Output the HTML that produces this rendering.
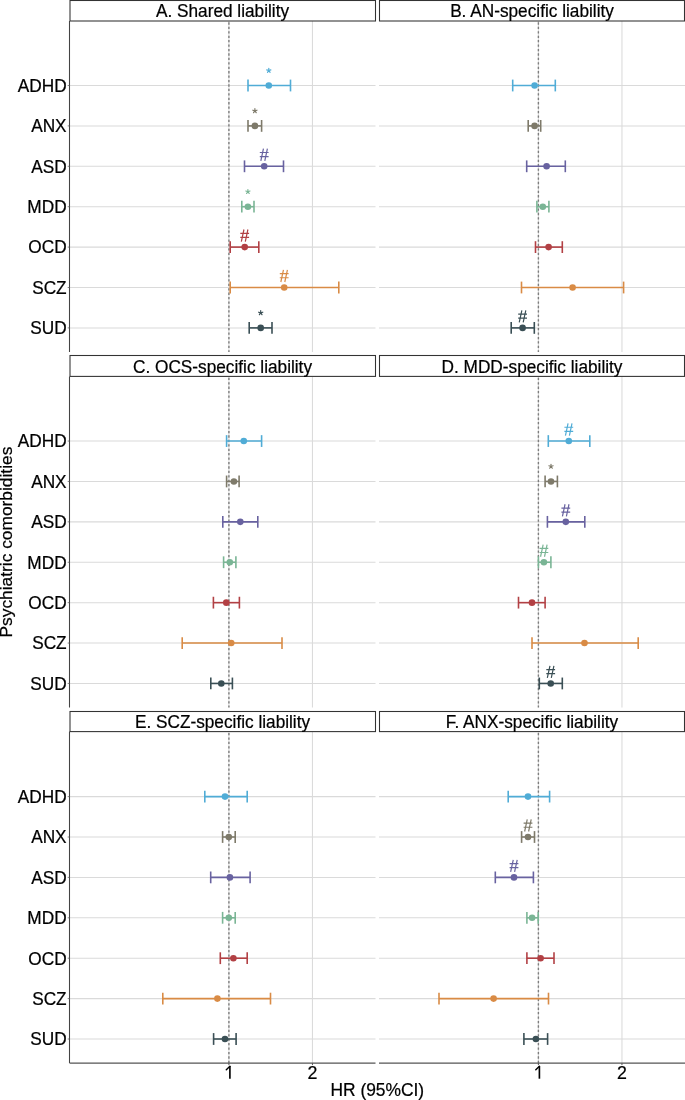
<!DOCTYPE html><html><head><meta charset="utf-8"><style>html,body{margin:0;padding:0;background:#fff;overflow:hidden}svg{display:block;will-change:transform}text{font-family:"Liberation Sans",sans-serif}</style></head><body>
<svg width="685" height="1100" viewBox="0 0 685 1100">
<rect x="0" y="0" width="685" height="1100" fill="#fff"/>
<line x1="69.50" y1="85.50" x2="375.50" y2="85.50" stroke="#DADADA" stroke-width="1.05"/>
<line x1="69.50" y1="125.90" x2="375.50" y2="125.90" stroke="#DADADA" stroke-width="1.05"/>
<line x1="69.50" y1="166.30" x2="375.50" y2="166.30" stroke="#DADADA" stroke-width="1.05"/>
<line x1="69.50" y1="206.70" x2="375.50" y2="206.70" stroke="#DADADA" stroke-width="1.05"/>
<line x1="69.50" y1="247.10" x2="375.50" y2="247.10" stroke="#DADADA" stroke-width="1.05"/>
<line x1="69.50" y1="287.50" x2="375.50" y2="287.50" stroke="#DADADA" stroke-width="1.05"/>
<line x1="69.50" y1="327.90" x2="375.50" y2="327.90" stroke="#DADADA" stroke-width="1.05"/>
<line x1="228.90" y1="21.00" x2="228.90" y2="352.00" stroke="#DADADA" stroke-width="1.05"/>
<line x1="312.45" y1="21.00" x2="312.45" y2="352.00" stroke="#DADADA" stroke-width="1.05"/>
<line x1="228.90" y1="21.00" x2="228.90" y2="352.00" stroke="#7E7E7E" stroke-width="1.4" stroke-dasharray="2.3 2.13" stroke-dashoffset="-1.35"/>
<rect x="70.00" y="0.50" width="305.50" height="20.50" fill="#fff" stroke="#333" stroke-width="1.07"/>
<text transform="translate(222.50,17.10) scale(1,1.015)" font-size="17.25" text-anchor="middle" fill="#000" stroke="#000" stroke-width="0.22">A. Shared liability</text>
<line x1="69.50" y1="21.00" x2="69.50" y2="352.00" stroke="#444" stroke-width="1.07"/>
<line x1="67.70" y1="85.50" x2="69.50" y2="85.50" stroke="#666" stroke-width="0.8"/>
<text transform="translate(66.60,91.80) scale(1,1.02)" font-size="17.25" text-anchor="end" fill="#000" stroke="#000" stroke-width="0.22">ADHD</text>
<line x1="67.70" y1="125.90" x2="69.50" y2="125.90" stroke="#666" stroke-width="0.8"/>
<text transform="translate(66.60,132.20) scale(1,1.02)" font-size="17.25" text-anchor="end" fill="#000" stroke="#000" stroke-width="0.22">ANX</text>
<line x1="67.70" y1="166.30" x2="69.50" y2="166.30" stroke="#666" stroke-width="0.8"/>
<text transform="translate(66.60,172.60) scale(1,1.02)" font-size="17.25" text-anchor="end" fill="#000" stroke="#000" stroke-width="0.22">ASD</text>
<line x1="67.70" y1="206.70" x2="69.50" y2="206.70" stroke="#666" stroke-width="0.8"/>
<text transform="translate(66.60,213.00) scale(1,1.02)" font-size="17.25" text-anchor="end" fill="#000" stroke="#000" stroke-width="0.22">MDD</text>
<line x1="67.70" y1="247.10" x2="69.50" y2="247.10" stroke="#666" stroke-width="0.8"/>
<text transform="translate(66.60,253.40) scale(1,1.02)" font-size="17.25" text-anchor="end" fill="#000" stroke="#000" stroke-width="0.22">OCD</text>
<line x1="67.70" y1="287.50" x2="69.50" y2="287.50" stroke="#666" stroke-width="0.8"/>
<text transform="translate(66.60,293.80) scale(1,1.02)" font-size="17.25" text-anchor="end" fill="#000" stroke="#000" stroke-width="0.22">SCZ</text>
<line x1="67.70" y1="327.90" x2="69.50" y2="327.90" stroke="#666" stroke-width="0.8"/>
<text transform="translate(66.60,334.20) scale(1,1.02)" font-size="17.25" text-anchor="end" fill="#000" stroke="#000" stroke-width="0.22">SUD</text>
<g stroke="#50ACD6" stroke-width="1.6" fill="none"><line x1="248.00" y1="85.50" x2="290.50" y2="85.50"/><line x1="248.00" y1="79.60" x2="248.00" y2="91.40"/><line x1="290.50" y1="79.60" x2="290.50" y2="91.40"/></g>
<circle cx="268.80" cy="85.50" r="3.3" fill="#50ACD6"/>
<path d="M268.80 70.50l0.00 -2.20M268.80 70.50l2.09 -0.68M268.80 70.50l1.29 1.78M268.80 70.50l-1.29 1.78M268.80 70.50l-2.09 -0.68" stroke="#50ACD6" stroke-width="1.2" stroke-linecap="round" fill="none"/>
<g stroke="#7E7A6A" stroke-width="1.6" fill="none"><line x1="248.00" y1="125.90" x2="261.60" y2="125.90"/><line x1="248.00" y1="120.00" x2="248.00" y2="131.80"/><line x1="261.60" y1="120.00" x2="261.60" y2="131.80"/></g>
<circle cx="254.90" cy="125.90" r="3.3" fill="#7E7A6A"/>
<path d="M254.90 110.90l0.00 -2.20M254.90 110.90l2.09 -0.68M254.90 110.90l1.29 1.78M254.90 110.90l-1.29 1.78M254.90 110.90l-2.09 -0.68" stroke="#7E7A6A" stroke-width="1.2" stroke-linecap="round" fill="none"/>
<g stroke="#6862A0" stroke-width="1.6" fill="none"><line x1="244.50" y1="166.30" x2="283.50" y2="166.30"/><line x1="244.50" y1="160.40" x2="244.50" y2="172.20"/><line x1="283.50" y1="160.40" x2="283.50" y2="172.20"/></g>
<circle cx="264.20" cy="166.30" r="3.3" fill="#6862A0"/>
<path d="M263.45 148.70L260.84 160.80M267.40 148.70L264.80 160.80M259.80 152.50H268.60M259.80 156.55H268.60" stroke="#6862A0" stroke-width="1.2" fill="none"/>
<g stroke="#7AB595" stroke-width="1.6" fill="none"><line x1="241.80" y1="206.70" x2="254.00" y2="206.70"/><line x1="241.80" y1="200.80" x2="241.80" y2="212.60"/><line x1="254.00" y1="200.80" x2="254.00" y2="212.60"/></g>
<circle cx="247.90" cy="206.70" r="3.3" fill="#7AB595"/>
<path d="M247.90 191.70l0.00 -2.20M247.90 191.70l2.09 -0.68M247.90 191.70l1.29 1.78M247.90 191.70l-1.29 1.78M247.90 191.70l-2.09 -0.68" stroke="#7AB595" stroke-width="1.2" stroke-linecap="round" fill="none"/>
<g stroke="#B24044" stroke-width="1.6" fill="none"><line x1="230.20" y1="247.10" x2="258.80" y2="247.10"/><line x1="230.20" y1="241.20" x2="230.20" y2="253.00"/><line x1="258.80" y1="241.20" x2="258.80" y2="253.00"/></g>
<circle cx="244.70" cy="247.10" r="3.3" fill="#B24044"/>
<path d="M243.95 229.50L241.34 241.60M247.90 229.50L245.30 241.60M240.30 233.30H249.10M240.30 237.35H249.10" stroke="#B24044" stroke-width="1.2" fill="none"/>
<g stroke="#D98B45" stroke-width="1.6" fill="none"><line x1="230.20" y1="287.50" x2="338.80" y2="287.50"/><line x1="230.20" y1="281.60" x2="230.20" y2="293.40"/><line x1="338.80" y1="281.60" x2="338.80" y2="293.40"/></g>
<circle cx="284.20" cy="287.50" r="3.3" fill="#D98B45"/>
<path d="M283.45 269.90L280.84 282.00M287.40 269.90L284.80 282.00M279.80 273.70H288.60M279.80 277.75H288.60" stroke="#D98B45" stroke-width="1.2" fill="none"/>
<g stroke="#3A4F55" stroke-width="1.6" fill="none"><line x1="249.20" y1="327.90" x2="272.00" y2="327.90"/><line x1="249.20" y1="322.00" x2="249.20" y2="333.80"/><line x1="272.00" y1="322.00" x2="272.00" y2="333.80"/></g>
<circle cx="260.70" cy="327.90" r="3.3" fill="#3A4F55"/>
<path d="M260.70 312.90l0.00 -2.20M260.70 312.90l2.09 -0.68M260.70 312.90l1.29 1.78M260.70 312.90l-1.29 1.78M260.70 312.90l-2.09 -0.68" stroke="#3A4F55" stroke-width="1.2" stroke-linecap="round" fill="none"/>
<line x1="379.00" y1="85.50" x2="685.00" y2="85.50" stroke="#DADADA" stroke-width="1.05"/>
<line x1="379.00" y1="125.90" x2="685.00" y2="125.90" stroke="#DADADA" stroke-width="1.05"/>
<line x1="379.00" y1="166.30" x2="685.00" y2="166.30" stroke="#DADADA" stroke-width="1.05"/>
<line x1="379.00" y1="206.70" x2="685.00" y2="206.70" stroke="#DADADA" stroke-width="1.05"/>
<line x1="379.00" y1="247.10" x2="685.00" y2="247.10" stroke="#DADADA" stroke-width="1.05"/>
<line x1="379.00" y1="287.50" x2="685.00" y2="287.50" stroke="#DADADA" stroke-width="1.05"/>
<line x1="379.00" y1="327.90" x2="685.00" y2="327.90" stroke="#DADADA" stroke-width="1.05"/>
<line x1="538.40" y1="21.00" x2="538.40" y2="352.00" stroke="#DADADA" stroke-width="1.05"/>
<line x1="621.95" y1="21.00" x2="621.95" y2="352.00" stroke="#DADADA" stroke-width="1.05"/>
<line x1="538.40" y1="21.00" x2="538.40" y2="352.00" stroke="#7E7E7E" stroke-width="1.4" stroke-dasharray="2.3 2.13" stroke-dashoffset="-1.35"/>
<rect x="379.50" y="0.50" width="305.00" height="20.50" fill="#fff" stroke="#333" stroke-width="1.07"/>
<text transform="translate(532.00,17.10) scale(1,1.015)" font-size="17.25" text-anchor="middle" fill="#000" stroke="#000" stroke-width="0.22">B. AN-specific liability</text>
<g stroke="#50ACD6" stroke-width="1.6" fill="none"><line x1="512.70" y1="85.50" x2="555.30" y2="85.50"/><line x1="512.70" y1="79.60" x2="512.70" y2="91.40"/><line x1="555.30" y1="79.60" x2="555.30" y2="91.40"/></g>
<circle cx="534.60" cy="85.50" r="3.3" fill="#50ACD6"/>
<g stroke="#7E7A6A" stroke-width="1.6" fill="none"><line x1="528.20" y1="125.90" x2="540.70" y2="125.90"/><line x1="528.20" y1="120.00" x2="528.20" y2="131.80"/><line x1="540.70" y1="120.00" x2="540.70" y2="131.80"/></g>
<circle cx="534.60" cy="125.90" r="3.3" fill="#7E7A6A"/>
<g stroke="#6862A0" stroke-width="1.6" fill="none"><line x1="526.70" y1="166.30" x2="565.30" y2="166.30"/><line x1="526.70" y1="160.40" x2="526.70" y2="172.20"/><line x1="565.30" y1="160.40" x2="565.30" y2="172.20"/></g>
<circle cx="546.60" cy="166.30" r="3.3" fill="#6862A0"/>
<g stroke="#7AB595" stroke-width="1.6" fill="none"><line x1="536.90" y1="206.70" x2="548.90" y2="206.70"/><line x1="536.90" y1="200.80" x2="536.90" y2="212.60"/><line x1="548.90" y1="200.80" x2="548.90" y2="212.60"/></g>
<circle cx="542.80" cy="206.70" r="3.3" fill="#7AB595"/>
<g stroke="#B24044" stroke-width="1.6" fill="none"><line x1="535.50" y1="247.10" x2="562.30" y2="247.10"/><line x1="535.50" y1="241.20" x2="535.50" y2="253.00"/><line x1="562.30" y1="241.20" x2="562.30" y2="253.00"/></g>
<circle cx="548.60" cy="247.10" r="3.3" fill="#B24044"/>
<g stroke="#D98B45" stroke-width="1.6" fill="none"><line x1="521.50" y1="287.50" x2="623.60" y2="287.50"/><line x1="521.50" y1="281.60" x2="521.50" y2="293.40"/><line x1="623.60" y1="281.60" x2="623.60" y2="293.40"/></g>
<circle cx="572.60" cy="287.50" r="3.3" fill="#D98B45"/>
<g stroke="#3A4F55" stroke-width="1.6" fill="none"><line x1="511.20" y1="327.90" x2="534.30" y2="327.90"/><line x1="511.20" y1="322.00" x2="511.20" y2="333.80"/><line x1="534.30" y1="322.00" x2="534.30" y2="333.80"/></g>
<circle cx="522.60" cy="327.90" r="3.3" fill="#3A4F55"/>
<path d="M521.85 310.30L519.24 322.40M525.80 310.30L523.20 322.40M518.20 314.10H527.00M518.20 318.15H527.00" stroke="#3A4F55" stroke-width="1.2" fill="none"/>
<line x1="69.50" y1="441.05" x2="375.50" y2="441.05" stroke="#DADADA" stroke-width="1.05"/>
<line x1="69.50" y1="481.45" x2="375.50" y2="481.45" stroke="#DADADA" stroke-width="1.05"/>
<line x1="69.50" y1="521.85" x2="375.50" y2="521.85" stroke="#DADADA" stroke-width="1.05"/>
<line x1="69.50" y1="562.25" x2="375.50" y2="562.25" stroke="#DADADA" stroke-width="1.05"/>
<line x1="69.50" y1="602.65" x2="375.50" y2="602.65" stroke="#DADADA" stroke-width="1.05"/>
<line x1="69.50" y1="643.05" x2="375.50" y2="643.05" stroke="#DADADA" stroke-width="1.05"/>
<line x1="69.50" y1="683.45" x2="375.50" y2="683.45" stroke="#DADADA" stroke-width="1.05"/>
<line x1="228.90" y1="376.40" x2="228.90" y2="707.55" stroke="#DADADA" stroke-width="1.05"/>
<line x1="312.45" y1="376.40" x2="312.45" y2="707.55" stroke="#DADADA" stroke-width="1.05"/>
<line x1="228.90" y1="376.40" x2="228.90" y2="707.55" stroke="#7E7E7E" stroke-width="1.4" stroke-dasharray="2.3 2.13" stroke-dashoffset="-1.35"/>
<rect x="70.00" y="355.50" width="305.50" height="20.90" fill="#fff" stroke="#333" stroke-width="1.07"/>
<text transform="translate(222.50,372.60) scale(1,1.015)" font-size="17.25" text-anchor="middle" fill="#000" stroke="#000" stroke-width="0.22">C. OCS-specific liability</text>
<line x1="69.50" y1="376.40" x2="69.50" y2="707.55" stroke="#444" stroke-width="1.07"/>
<line x1="67.70" y1="441.05" x2="69.50" y2="441.05" stroke="#666" stroke-width="0.8"/>
<text transform="translate(66.60,447.35) scale(1,1.02)" font-size="17.25" text-anchor="end" fill="#000" stroke="#000" stroke-width="0.22">ADHD</text>
<line x1="67.70" y1="481.45" x2="69.50" y2="481.45" stroke="#666" stroke-width="0.8"/>
<text transform="translate(66.60,487.75) scale(1,1.02)" font-size="17.25" text-anchor="end" fill="#000" stroke="#000" stroke-width="0.22">ANX</text>
<line x1="67.70" y1="521.85" x2="69.50" y2="521.85" stroke="#666" stroke-width="0.8"/>
<text transform="translate(66.60,528.15) scale(1,1.02)" font-size="17.25" text-anchor="end" fill="#000" stroke="#000" stroke-width="0.22">ASD</text>
<line x1="67.70" y1="562.25" x2="69.50" y2="562.25" stroke="#666" stroke-width="0.8"/>
<text transform="translate(66.60,568.55) scale(1,1.02)" font-size="17.25" text-anchor="end" fill="#000" stroke="#000" stroke-width="0.22">MDD</text>
<line x1="67.70" y1="602.65" x2="69.50" y2="602.65" stroke="#666" stroke-width="0.8"/>
<text transform="translate(66.60,608.95) scale(1,1.02)" font-size="17.25" text-anchor="end" fill="#000" stroke="#000" stroke-width="0.22">OCD</text>
<line x1="67.70" y1="643.05" x2="69.50" y2="643.05" stroke="#666" stroke-width="0.8"/>
<text transform="translate(66.60,649.35) scale(1,1.02)" font-size="17.25" text-anchor="end" fill="#000" stroke="#000" stroke-width="0.22">SCZ</text>
<line x1="67.70" y1="683.45" x2="69.50" y2="683.45" stroke="#666" stroke-width="0.8"/>
<text transform="translate(66.60,689.75) scale(1,1.02)" font-size="17.25" text-anchor="end" fill="#000" stroke="#000" stroke-width="0.22">SUD</text>
<g stroke="#50ACD6" stroke-width="1.6" fill="none"><line x1="226.60" y1="441.05" x2="261.60" y2="441.05"/><line x1="226.60" y1="435.15" x2="226.60" y2="446.95"/><line x1="261.60" y1="435.15" x2="261.60" y2="446.95"/></g>
<circle cx="243.80" cy="441.05" r="3.3" fill="#50ACD6"/>
<g stroke="#7E7A6A" stroke-width="1.6" fill="none"><line x1="226.60" y1="481.45" x2="239.10" y2="481.45"/><line x1="226.60" y1="475.55" x2="226.60" y2="487.35"/><line x1="239.10" y1="475.55" x2="239.10" y2="487.35"/></g>
<circle cx="233.90" cy="481.45" r="3.3" fill="#7E7A6A"/>
<g stroke="#6862A0" stroke-width="1.6" fill="none"><line x1="222.80" y1="521.85" x2="257.80" y2="521.85"/><line x1="222.80" y1="515.95" x2="222.80" y2="527.75"/><line x1="257.80" y1="515.95" x2="257.80" y2="527.75"/></g>
<circle cx="240.30" cy="521.85" r="3.3" fill="#6862A0"/>
<g stroke="#7AB595" stroke-width="1.6" fill="none"><line x1="223.60" y1="562.25" x2="235.90" y2="562.25"/><line x1="223.60" y1="556.35" x2="223.60" y2="568.15"/><line x1="235.90" y1="556.35" x2="235.90" y2="568.15"/></g>
<circle cx="229.80" cy="562.25" r="3.3" fill="#7AB595"/>
<g stroke="#B24044" stroke-width="1.6" fill="none"><line x1="213.40" y1="602.65" x2="239.40" y2="602.65"/><line x1="213.40" y1="596.75" x2="213.40" y2="608.55"/><line x1="239.40" y1="596.75" x2="239.40" y2="608.55"/></g>
<circle cx="226.30" cy="602.65" r="3.3" fill="#B24044"/>
<g stroke="#D98B45" stroke-width="1.6" fill="none"><line x1="182.20" y1="643.05" x2="282.00" y2="643.05"/><line x1="182.20" y1="637.15" x2="182.20" y2="648.95"/><line x1="282.00" y1="637.15" x2="282.00" y2="648.95"/></g>
<circle cx="231.20" cy="643.05" r="3.3" fill="#D98B45"/>
<g stroke="#3A4F55" stroke-width="1.6" fill="none"><line x1="210.80" y1="683.45" x2="232.40" y2="683.45"/><line x1="210.80" y1="677.55" x2="210.80" y2="689.35"/><line x1="232.40" y1="677.55" x2="232.40" y2="689.35"/></g>
<circle cx="221.30" cy="683.45" r="3.3" fill="#3A4F55"/>
<line x1="379.00" y1="441.05" x2="685.00" y2="441.05" stroke="#DADADA" stroke-width="1.05"/>
<line x1="379.00" y1="481.45" x2="685.00" y2="481.45" stroke="#DADADA" stroke-width="1.05"/>
<line x1="379.00" y1="521.85" x2="685.00" y2="521.85" stroke="#DADADA" stroke-width="1.05"/>
<line x1="379.00" y1="562.25" x2="685.00" y2="562.25" stroke="#DADADA" stroke-width="1.05"/>
<line x1="379.00" y1="602.65" x2="685.00" y2="602.65" stroke="#DADADA" stroke-width="1.05"/>
<line x1="379.00" y1="643.05" x2="685.00" y2="643.05" stroke="#DADADA" stroke-width="1.05"/>
<line x1="379.00" y1="683.45" x2="685.00" y2="683.45" stroke="#DADADA" stroke-width="1.05"/>
<line x1="538.40" y1="376.40" x2="538.40" y2="707.55" stroke="#DADADA" stroke-width="1.05"/>
<line x1="621.95" y1="376.40" x2="621.95" y2="707.55" stroke="#DADADA" stroke-width="1.05"/>
<line x1="538.40" y1="376.40" x2="538.40" y2="707.55" stroke="#7E7E7E" stroke-width="1.4" stroke-dasharray="2.3 2.13" stroke-dashoffset="-1.35"/>
<rect x="379.50" y="355.50" width="305.00" height="20.90" fill="#fff" stroke="#333" stroke-width="1.07"/>
<text transform="translate(532.00,372.60) scale(1,1.015)" font-size="17.25" text-anchor="middle" fill="#000" stroke="#000" stroke-width="0.22">D. MDD-specific liability</text>
<g stroke="#50ACD6" stroke-width="1.6" fill="none"><line x1="548.30" y1="441.05" x2="589.80" y2="441.05"/><line x1="548.30" y1="435.15" x2="548.30" y2="446.95"/><line x1="589.80" y1="435.15" x2="589.80" y2="446.95"/></g>
<circle cx="568.80" cy="441.05" r="3.3" fill="#50ACD6"/>
<path d="M568.05 423.45L565.44 435.55M572.00 423.45L569.40 435.55M564.40 427.25H573.20M564.40 431.30H573.20" stroke="#50ACD6" stroke-width="1.2" fill="none"/>
<g stroke="#7E7A6A" stroke-width="1.6" fill="none"><line x1="545.10" y1="481.45" x2="557.40" y2="481.45"/><line x1="545.10" y1="475.55" x2="545.10" y2="487.35"/><line x1="557.40" y1="475.55" x2="557.40" y2="487.35"/></g>
<circle cx="551.00" cy="481.45" r="3.3" fill="#7E7A6A"/>
<path d="M551.00 466.45l0.00 -2.20M551.00 466.45l2.09 -0.68M551.00 466.45l1.29 1.78M551.00 466.45l-1.29 1.78M551.00 466.45l-2.09 -0.68" stroke="#7E7A6A" stroke-width="1.2" stroke-linecap="round" fill="none"/>
<g stroke="#6862A0" stroke-width="1.6" fill="none"><line x1="547.40" y1="521.85" x2="584.80" y2="521.85"/><line x1="547.40" y1="515.95" x2="547.40" y2="527.75"/><line x1="584.80" y1="515.95" x2="584.80" y2="527.75"/></g>
<circle cx="565.80" cy="521.85" r="3.3" fill="#6862A0"/>
<path d="M565.05 504.25L562.44 516.35M569.00 504.25L566.40 516.35M561.40 508.05H570.20M561.40 512.10H570.20" stroke="#6862A0" stroke-width="1.2" fill="none"/>
<g stroke="#7AB595" stroke-width="1.6" fill="none"><line x1="538.40" y1="562.25" x2="550.90" y2="562.25"/><line x1="538.40" y1="556.35" x2="538.40" y2="568.15"/><line x1="550.90" y1="556.35" x2="550.90" y2="568.15"/></g>
<circle cx="543.90" cy="562.25" r="3.3" fill="#7AB595"/>
<path d="M543.15 544.65L540.54 556.75M547.10 544.65L544.50 556.75M539.50 548.45H548.30M539.50 552.50H548.30" stroke="#7AB595" stroke-width="1.2" fill="none"/>
<g stroke="#B24044" stroke-width="1.6" fill="none"><line x1="518.50" y1="602.65" x2="545.10" y2="602.65"/><line x1="518.50" y1="596.75" x2="518.50" y2="608.55"/><line x1="545.10" y1="596.75" x2="545.10" y2="608.55"/></g>
<circle cx="532.00" cy="602.65" r="3.3" fill="#B24044"/>
<g stroke="#D98B45" stroke-width="1.6" fill="none"><line x1="532.00" y1="643.05" x2="638.20" y2="643.05"/><line x1="532.00" y1="637.15" x2="532.00" y2="648.95"/><line x1="638.20" y1="637.15" x2="638.20" y2="648.95"/></g>
<circle cx="584.50" cy="643.05" r="3.3" fill="#D98B45"/>
<g stroke="#3A4F55" stroke-width="1.6" fill="none"><line x1="539.30" y1="683.45" x2="562.30" y2="683.45"/><line x1="539.30" y1="677.55" x2="539.30" y2="689.35"/><line x1="562.30" y1="677.55" x2="562.30" y2="689.35"/></g>
<circle cx="550.70" cy="683.45" r="3.3" fill="#3A4F55"/>
<path d="M549.95 665.85L547.34 677.95M553.90 665.85L551.30 677.95M546.30 669.65H555.10M546.30 673.70H555.10" stroke="#3A4F55" stroke-width="1.2" fill="none"/>
<line x1="69.50" y1="796.60" x2="375.50" y2="796.60" stroke="#DADADA" stroke-width="1.05"/>
<line x1="69.50" y1="837.00" x2="375.50" y2="837.00" stroke="#DADADA" stroke-width="1.05"/>
<line x1="69.50" y1="877.40" x2="375.50" y2="877.40" stroke="#DADADA" stroke-width="1.05"/>
<line x1="69.50" y1="917.80" x2="375.50" y2="917.80" stroke="#DADADA" stroke-width="1.05"/>
<line x1="69.50" y1="958.20" x2="375.50" y2="958.20" stroke="#DADADA" stroke-width="1.05"/>
<line x1="69.50" y1="998.60" x2="375.50" y2="998.60" stroke="#DADADA" stroke-width="1.05"/>
<line x1="69.50" y1="1039.00" x2="375.50" y2="1039.00" stroke="#DADADA" stroke-width="1.05"/>
<line x1="228.90" y1="731.60" x2="228.90" y2="1063.10" stroke="#DADADA" stroke-width="1.05"/>
<line x1="312.45" y1="731.60" x2="312.45" y2="1063.10" stroke="#DADADA" stroke-width="1.05"/>
<line x1="228.90" y1="731.60" x2="228.90" y2="1063.10" stroke="#7E7E7E" stroke-width="1.4" stroke-dasharray="2.3 2.13" stroke-dashoffset="-1.35"/>
<rect x="70.00" y="711.50" width="305.50" height="20.10" fill="#fff" stroke="#333" stroke-width="1.07"/>
<text transform="translate(222.50,728.10) scale(1,1.015)" font-size="17.25" text-anchor="middle" fill="#000" stroke="#000" stroke-width="0.22">E. SCZ-specific liability</text>
<line x1="69.50" y1="731.60" x2="69.50" y2="1063.10" stroke="#444" stroke-width="1.07"/>
<line x1="67.70" y1="796.60" x2="69.50" y2="796.60" stroke="#666" stroke-width="0.8"/>
<text transform="translate(66.60,802.90) scale(1,1.02)" font-size="17.25" text-anchor="end" fill="#000" stroke="#000" stroke-width="0.22">ADHD</text>
<line x1="67.70" y1="837.00" x2="69.50" y2="837.00" stroke="#666" stroke-width="0.8"/>
<text transform="translate(66.60,843.30) scale(1,1.02)" font-size="17.25" text-anchor="end" fill="#000" stroke="#000" stroke-width="0.22">ANX</text>
<line x1="67.70" y1="877.40" x2="69.50" y2="877.40" stroke="#666" stroke-width="0.8"/>
<text transform="translate(66.60,883.70) scale(1,1.02)" font-size="17.25" text-anchor="end" fill="#000" stroke="#000" stroke-width="0.22">ASD</text>
<line x1="67.70" y1="917.80" x2="69.50" y2="917.80" stroke="#666" stroke-width="0.8"/>
<text transform="translate(66.60,924.10) scale(1,1.02)" font-size="17.25" text-anchor="end" fill="#000" stroke="#000" stroke-width="0.22">MDD</text>
<line x1="67.70" y1="958.20" x2="69.50" y2="958.20" stroke="#666" stroke-width="0.8"/>
<text transform="translate(66.60,964.50) scale(1,1.02)" font-size="17.25" text-anchor="end" fill="#000" stroke="#000" stroke-width="0.22">OCD</text>
<line x1="67.70" y1="998.60" x2="69.50" y2="998.60" stroke="#666" stroke-width="0.8"/>
<text transform="translate(66.60,1004.90) scale(1,1.02)" font-size="17.25" text-anchor="end" fill="#000" stroke="#000" stroke-width="0.22">SCZ</text>
<line x1="67.70" y1="1039.00" x2="69.50" y2="1039.00" stroke="#666" stroke-width="0.8"/>
<text transform="translate(66.60,1045.30) scale(1,1.02)" font-size="17.25" text-anchor="end" fill="#000" stroke="#000" stroke-width="0.22">SUD</text>
<line x1="69.50" y1="1063.10" x2="375.50" y2="1063.10" stroke="#555" stroke-width="1.2"/>
<line x1="228.90" y1="1063.10" x2="228.90" y2="1065.10" stroke="#555" stroke-width="1"/>
<path d="M229.90 1066.10V1078.70" stroke="#000" stroke-width="1.65" fill="none"/>
<path d="M229.90 1066.30L226.30 1069.80" stroke="#000" stroke-width="1.45" stroke-linecap="round" fill="none"/>
<line x1="312.45" y1="1063.10" x2="312.45" y2="1065.10" stroke="#555" stroke-width="1"/>
<text transform="translate(312.45,1078.70) scale(1,1.0)" font-size="17.8" text-anchor="middle" fill="#000" stroke="#000" stroke-width="0.22">2</text>
<g stroke="#50ACD6" stroke-width="1.6" fill="none"><line x1="204.80" y1="796.60" x2="247.20" y2="796.60"/><line x1="204.80" y1="790.70" x2="204.80" y2="802.50"/><line x1="247.20" y1="790.70" x2="247.20" y2="802.50"/></g>
<circle cx="225.00" cy="796.60" r="3.3" fill="#50ACD6"/>
<g stroke="#7E7A6A" stroke-width="1.6" fill="none"><line x1="222.60" y1="837.00" x2="235.20" y2="837.00"/><line x1="222.60" y1="831.10" x2="222.60" y2="842.90"/><line x1="235.20" y1="831.10" x2="235.20" y2="842.90"/></g>
<circle cx="228.80" cy="837.00" r="3.3" fill="#7E7A6A"/>
<g stroke="#6862A0" stroke-width="1.6" fill="none"><line x1="210.70" y1="877.40" x2="250.10" y2="877.40"/><line x1="210.70" y1="871.50" x2="210.70" y2="883.30"/><line x1="250.10" y1="871.50" x2="250.10" y2="883.30"/></g>
<circle cx="229.90" cy="877.40" r="3.3" fill="#6862A0"/>
<g stroke="#7AB595" stroke-width="1.6" fill="none"><line x1="222.60" y1="917.80" x2="235.20" y2="917.80"/><line x1="222.60" y1="911.90" x2="222.60" y2="923.70"/><line x1="235.20" y1="911.90" x2="235.20" y2="923.70"/></g>
<circle cx="228.80" cy="917.80" r="3.3" fill="#7AB595"/>
<g stroke="#B24044" stroke-width="1.6" fill="none"><line x1="220.30" y1="958.20" x2="247.20" y2="958.20"/><line x1="220.30" y1="952.30" x2="220.30" y2="964.10"/><line x1="247.20" y1="952.30" x2="247.20" y2="964.10"/></g>
<circle cx="233.40" cy="958.20" r="3.3" fill="#B24044"/>
<g stroke="#D98B45" stroke-width="1.6" fill="none"><line x1="162.80" y1="998.60" x2="270.50" y2="998.60"/><line x1="162.80" y1="992.70" x2="162.80" y2="1004.50"/><line x1="270.50" y1="992.70" x2="270.50" y2="1004.50"/></g>
<circle cx="217.40" cy="998.60" r="3.3" fill="#D98B45"/>
<g stroke="#3A4F55" stroke-width="1.6" fill="none"><line x1="213.60" y1="1039.00" x2="236.10" y2="1039.00"/><line x1="213.60" y1="1033.10" x2="213.60" y2="1044.90"/><line x1="236.10" y1="1033.10" x2="236.10" y2="1044.90"/></g>
<circle cx="225.00" cy="1039.00" r="3.3" fill="#3A4F55"/>
<line x1="379.00" y1="796.60" x2="685.00" y2="796.60" stroke="#DADADA" stroke-width="1.05"/>
<line x1="379.00" y1="837.00" x2="685.00" y2="837.00" stroke="#DADADA" stroke-width="1.05"/>
<line x1="379.00" y1="877.40" x2="685.00" y2="877.40" stroke="#DADADA" stroke-width="1.05"/>
<line x1="379.00" y1="917.80" x2="685.00" y2="917.80" stroke="#DADADA" stroke-width="1.05"/>
<line x1="379.00" y1="958.20" x2="685.00" y2="958.20" stroke="#DADADA" stroke-width="1.05"/>
<line x1="379.00" y1="998.60" x2="685.00" y2="998.60" stroke="#DADADA" stroke-width="1.05"/>
<line x1="379.00" y1="1039.00" x2="685.00" y2="1039.00" stroke="#DADADA" stroke-width="1.05"/>
<line x1="538.40" y1="731.60" x2="538.40" y2="1063.10" stroke="#DADADA" stroke-width="1.05"/>
<line x1="621.95" y1="731.60" x2="621.95" y2="1063.10" stroke="#DADADA" stroke-width="1.05"/>
<line x1="538.40" y1="731.60" x2="538.40" y2="1063.10" stroke="#7E7E7E" stroke-width="1.4" stroke-dasharray="2.3 2.13" stroke-dashoffset="-1.35"/>
<rect x="379.50" y="711.50" width="305.00" height="20.10" fill="#fff" stroke="#333" stroke-width="1.07"/>
<text transform="translate(532.00,728.10) scale(1,1.015)" font-size="17.25" text-anchor="middle" fill="#000" stroke="#000" stroke-width="0.22">F. ANX-specific liability</text>
<line x1="379.00" y1="1063.10" x2="685.00" y2="1063.10" stroke="#555" stroke-width="1.2"/>
<line x1="538.40" y1="1063.10" x2="538.40" y2="1065.10" stroke="#555" stroke-width="1"/>
<path d="M539.40 1066.10V1078.70" stroke="#000" stroke-width="1.65" fill="none"/>
<path d="M539.40 1066.30L535.80 1069.80" stroke="#000" stroke-width="1.45" stroke-linecap="round" fill="none"/>
<line x1="621.95" y1="1063.10" x2="621.95" y2="1065.10" stroke="#555" stroke-width="1"/>
<text transform="translate(621.95,1078.70) scale(1,1.0)" font-size="17.8" text-anchor="middle" fill="#000" stroke="#000" stroke-width="0.22">2</text>
<g stroke="#50ACD6" stroke-width="1.6" fill="none"><line x1="508.20" y1="796.60" x2="549.60" y2="796.60"/><line x1="508.20" y1="790.70" x2="508.20" y2="802.50"/><line x1="549.60" y1="790.70" x2="549.60" y2="802.50"/></g>
<circle cx="528.00" cy="796.60" r="3.3" fill="#50ACD6"/>
<g stroke="#7E7A6A" stroke-width="1.6" fill="none"><line x1="521.60" y1="837.00" x2="534.50" y2="837.00"/><line x1="521.60" y1="831.10" x2="521.60" y2="842.90"/><line x1="534.50" y1="831.10" x2="534.50" y2="842.90"/></g>
<circle cx="528.00" cy="837.00" r="3.3" fill="#7E7A6A"/>
<path d="M527.25 819.40L524.64 831.50M531.20 819.40L528.60 831.50M523.60 823.20H532.40M523.60 827.25H532.40" stroke="#7E7A6A" stroke-width="1.2" fill="none"/>
<g stroke="#6862A0" stroke-width="1.6" fill="none"><line x1="495.30" y1="877.40" x2="533.40" y2="877.40"/><line x1="495.30" y1="871.50" x2="495.30" y2="883.30"/><line x1="533.40" y1="871.50" x2="533.40" y2="883.30"/></g>
<circle cx="514.00" cy="877.40" r="3.3" fill="#6862A0"/>
<path d="M513.25 859.80L510.64 871.90M517.20 859.80L514.60 871.90M509.60 863.60H518.40M509.60 867.65H518.40" stroke="#6862A0" stroke-width="1.2" fill="none"/>
<g stroke="#7AB595" stroke-width="1.6" fill="none"><line x1="526.90" y1="917.80" x2="538.20" y2="917.80"/><line x1="526.90" y1="911.90" x2="526.90" y2="923.70"/><line x1="538.20" y1="911.90" x2="538.20" y2="923.70"/></g>
<circle cx="532.10" cy="917.80" r="3.3" fill="#7AB595"/>
<g stroke="#B24044" stroke-width="1.6" fill="none"><line x1="526.90" y1="958.20" x2="554.00" y2="958.20"/><line x1="526.90" y1="952.30" x2="526.90" y2="964.10"/><line x1="554.00" y1="952.30" x2="554.00" y2="964.10"/></g>
<circle cx="540.60" cy="958.20" r="3.3" fill="#B24044"/>
<g stroke="#D98B45" stroke-width="1.6" fill="none"><line x1="439.00" y1="998.60" x2="548.50" y2="998.60"/><line x1="439.00" y1="992.70" x2="439.00" y2="1004.50"/><line x1="548.50" y1="992.70" x2="548.50" y2="1004.50"/></g>
<circle cx="493.60" cy="998.60" r="3.3" fill="#D98B45"/>
<g stroke="#3A4F55" stroke-width="1.6" fill="none"><line x1="523.90" y1="1039.00" x2="547.60" y2="1039.00"/><line x1="523.90" y1="1033.10" x2="523.90" y2="1044.90"/><line x1="547.60" y1="1033.10" x2="547.60" y2="1044.90"/></g>
<circle cx="535.90" cy="1039.00" r="3.3" fill="#3A4F55"/>
<text transform="translate(377.30,1096.30) scale(1,1.02)" font-size="17.4" text-anchor="middle" fill="#000" stroke="#000" stroke-width="0.22">HR (95%CI)</text>
<text transform="translate(12.0,542.1) rotate(-90)" x="0" y="0" font-size="17.35" text-anchor="middle" fill="#000" stroke="#000" stroke-width="0.22">Psychiatric comorbidities</text>
</svg></body></html>
